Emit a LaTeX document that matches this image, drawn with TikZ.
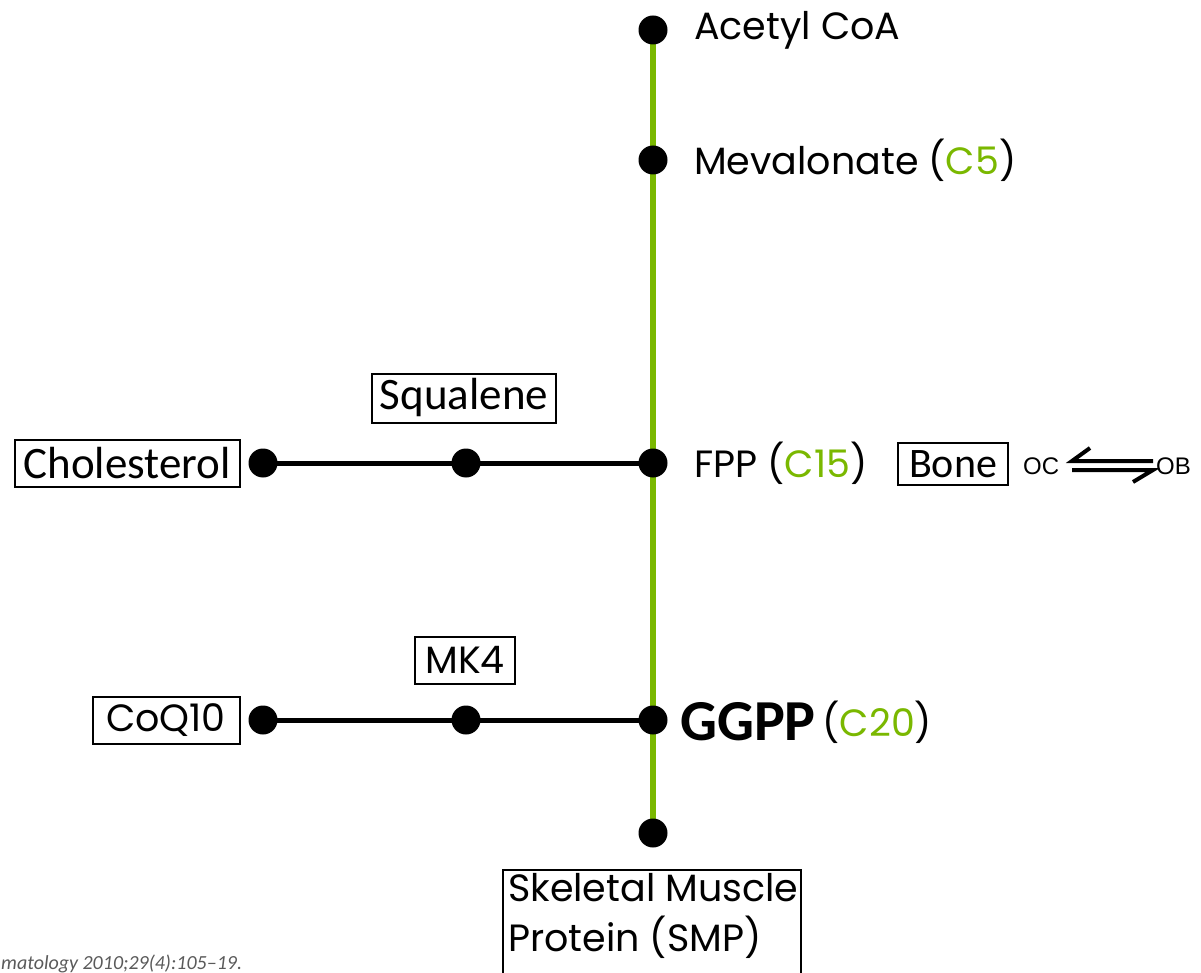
\documentclass[tikz,border=0pt]{standalone}
\usepackage{fontspec}
\setmainfont{Poppins}
\newfontfamily\carlito{Carlito}
\newfontfamily\arialf{Liberation Sans}
\usetikzlibrary{backgrounds}
\definecolor{cgreen}{RGB}{122,184,0}
\definecolor{cgray}{RGB}{90,90,90}
\tikzset{
  dot/.style={circle,fill=black,inner sep=0pt,minimum size=29pt},
  greenline/.style={draw=cgreen,line width=6pt},
  blackline/.style={draw=black,line width=5pt},
  lbl/.style={anchor=west,inner sep=0pt,font=\fontsize{38}{46}\selectfont},
  boxc/.style={draw=black,line width=2pt,inner sep=0pt,font=\carlito\fontsize{45}{54}\selectfont},
  boxp/.style={draw=black,line width=2pt,inner sep=0pt,font=\fontsize{38}{46}\selectfont},
  oclbl/.style={inner sep=0pt,font=\arialf\fontsize{24}{28}\selectfont},
  harp/.style={line width=4pt},
}
\begin{document}
\begin{tikzpicture}[x=1pt,y=-1pt]
\useasboundingbox (0,0) rectangle (1201,973);
\clip (0,0) rectangle (1201,973);
% dots
\node[dot] (acoa) at (653,30) {};
\node[dot] (meva) at (653,160) {};
\node[dot] (fpp) at (653,463) {};
\node[dot] (ggpp) at (653,720) {};
\node[dot] (smpd) at (653,833) {};
\node[dot] (chold) at (263,463) {};
\node[dot] (squald) at (466,463) {};
\node[dot] (coqd) at (263,720) {};
\node[dot] (mkd) at (466,720) {};
\begin{scope}[on background layer]
\draw[greenline] (acoa.center) -- (meva.center) -- (fpp.center) -- (ggpp.center) -- (smpd.center);
\draw[blackline] (chold.center) -- (squald.center) -- (fpp.center);
\draw[blackline] (coqd.center) -- (mkd.center) -- (ggpp.center);
\end{scope}
% labels
\node[lbl] (acoaL) at (694,30) {Acetyl CoA};
\node[lbl] (mevaL) at (694,160) {Mevalonate (\textcolor{cgreen}{C5})};
\node[lbl] (fppL) at (694,463) {FPP (\textcolor{cgreen}{C15})};
\node[lbl,font=\carlito\bfseries\fontsize{58}{64}\selectfont] (ggppL) at (680,722) {GGPP};
\node[lbl] (c20L) at (ggppL.east) {\,(\textcolor{cgreen}{C20})};
% boxes
\node[boxc,font=\carlito\fontsize{42}{50}\selectfont,minimum width=110pt,minimum height=42pt] (bone) at (953,464) {Bone};
\node[boxc,minimum width=225pt,minimum height=47pt] (chol) at (127,463) {Cholesterol};
\node[boxc,minimum width=184pt,minimum height=49pt] (squal) at (464,398) {Squalene};
\node[boxp,minimum width=100pt,minimum height=47pt] (mk4) at (465,660) {MK4};
\node[boxp,minimum width=147pt,minimum height=47pt] (coq) at (166,720) {CoQ10};
\node[boxp,anchor=north,minimum width=298pt,minimum height=130pt] (smp) at (652,869) {};
\node[inner sep=0pt,anchor=north west,align=left,font=\fontsize{38}{50}\selectfont] (smpT) at (508,873) {Skeletal Muscle\\Protein (SMP)};
% OC / OB
\node[oclbl,anchor=west] (oc) at (1023,466) {OC};
\node[oclbl,anchor=west] (ob) at (1156,466) {OB};
\coordinate (h1a) at (1072,461);
\coordinate (h1b) at (1153,461);
\coordinate (h2a) at (1072,470);
\coordinate (h2b) at (1153,470);
\draw[harp] (h1b) -- (h1a) -- (1090,448);
\draw[harp] (h2a) -- (h2b) -- (1133,482);
% citation
\node[inner sep=0pt,anchor=west,text=cgray,font=\carlito\itshape\fontsize{20}{24}\selectfont] (cite) at (1,964) {matology 2010;29(4):105–19.};
\end{tikzpicture}
\end{document}
